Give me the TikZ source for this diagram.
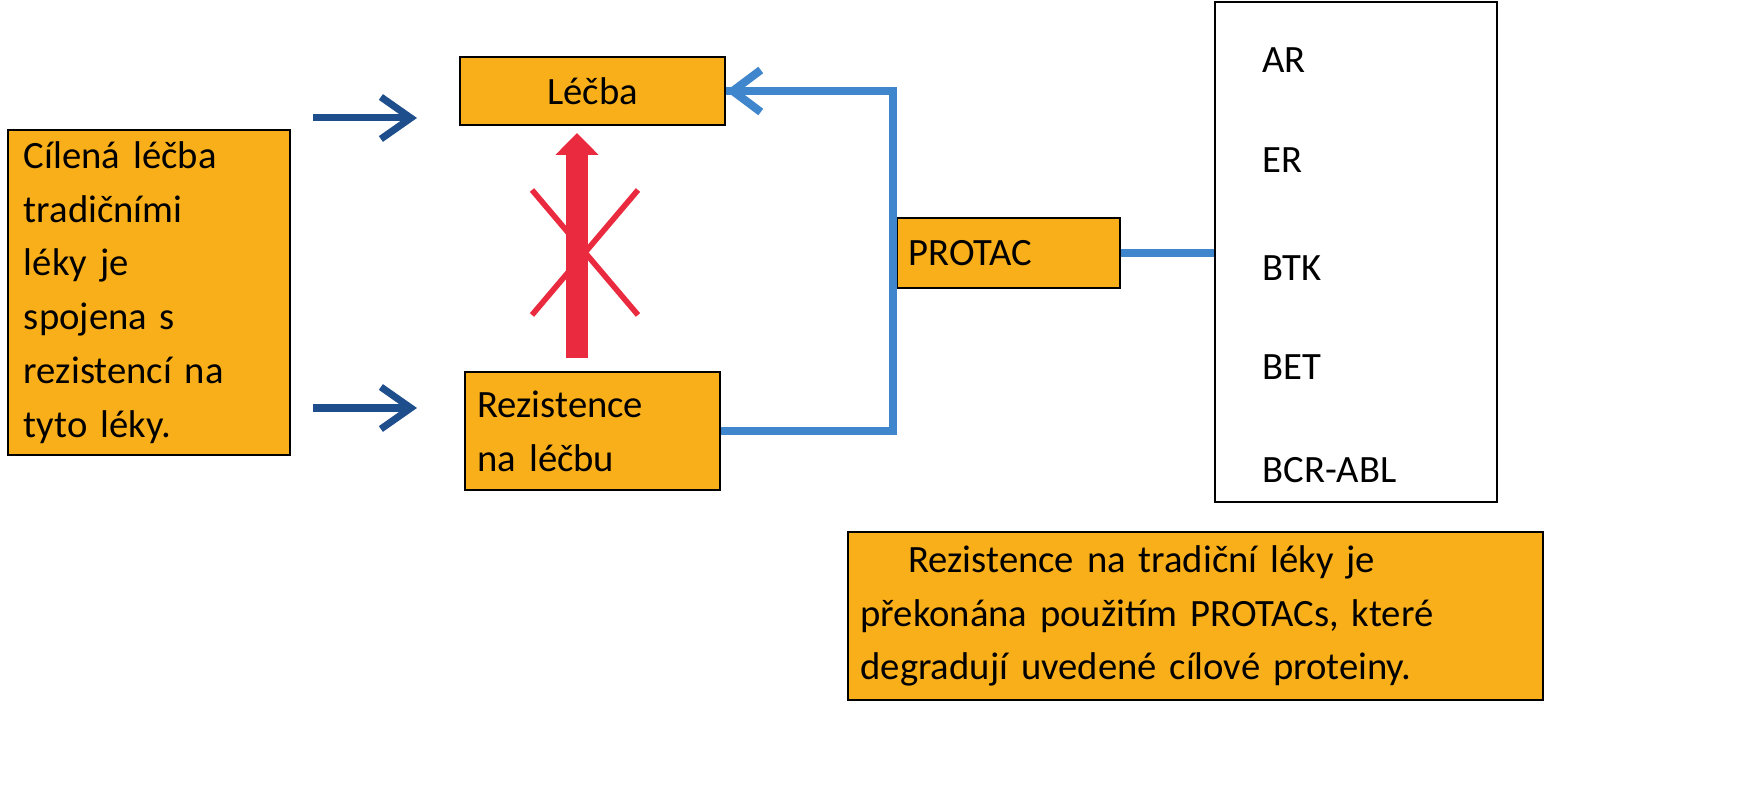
\documentclass[tikz,border=0pt]{standalone}
\usepackage{fontspec}
\setmainfont{Carlito}
\usetikzlibrary{arrows.meta,positioning,calc}
\definecolor{boxorange}{HTML}{F9AF19}
\definecolor{darkarrow}{HTML}{1F4E8C}
\definecolor{lightarrow}{HTML}{3F86CC}
\definecolor{stopred}{HTML}{EA2A3E}
\begin{document}
\begin{tikzpicture}[
    box/.style={rectangle, draw=black, line width=0.6pt, fill=boxorange, font=\fontsize{11}{15.3}\selectfont},
    item/.style={anchor=west, font=\fontsize{11}{15.3}\selectfont},
    darkline/.style={draw=darkarrow, line width=2pt, -{Straight Barb[length=0.3cm, width=0.42cm, line width=2pt]}},
    lightline/.style={draw=lightarrow, line width=2.3pt},
    redline/.style={draw=stopred, line width=1.6pt}
]
\useasboundingbox (0,0) rectangle (17.54,8);
% Boxes
\node [box, minimum width=2.82cm, minimum height=3.25cm, text width=2.5cm, align=left] (goal) at (1.49,5.075)
  {Cílená léčba\\tradičními\\léky je\\spojena s\\rezistencí na\\tyto léky.};
\node [box, minimum width=2.65cm, minimum height=0.68cm] (lecba) at (5.925,7.09) {Léčba};
\node [box, minimum width=2.55cm, minimum height=1.18cm, text width=2.3cm, align=left] (rez) at (5.925,3.69)
  {Rezistence\\na léčbu};
\node [box, minimum width=2.23cm, minimum height=0.7cm, text width=2cm, align=left] (protac) at (10.085,5.47) {PROTAC};
\node [rectangle, draw=black, line width=0.6pt, fill=white, minimum width=2.82cm, minimum height=5.0cm] (targets) at (13.56,5.48) {};
\node [box, minimum width=6.95cm, minimum height=1.68cm, text width=6.7cm, align=left] (note) at (11.955,1.84)
  {\hspace*{0.48cm}Rezistence na tradiční léky je\\překonána použitím PROTACs, které\\degradují uvedené cílové proteiny.};

% Targets
\node [item] (ar) at (12.5,7.4) {AR};
\node [item] (er) at (12.5,6.4) {ER};
\node [item] (btk) at (12.5,5.32) {BTK};
\node [item] (bet) at (12.5,4.33) {BET};
\node [item] (bcr) at (12.5,3.3) {BCR-ABL};

% Coordinates
\coordinate (inA) at (3.13,6.82);
\coordinate (outA) at (4.17,6.82);
\coordinate (inB) at (3.13,3.92);
\coordinate (outB) at (4.17,3.92);
\coordinate (bend) at (8.93,3.69);
\coordinate (redlow) at (5.77,4.42);
\coordinate (redhigh) at (5.77,6.67);

% Connections
\path [darkline] (inA) -- (outA);
\path [darkline] (inB) -- (outB);
\draw [lightline] (rez.east) -- (bend) |- (lecba.east);
\draw [lightline, -{Straight Barb[length=0.28cm, width=0.42cm, line width=2.3pt]}] (8.93,7.09) -- (lecba.east);
\draw [lightline] (protac.east) -- (protac.east -| targets.west);
\draw [draw=stopred, line width=6.3pt, -{Triangle[length=0.22cm, width=0.42cm]}] (redlow) -- (redhigh);
\draw [redline] (5.32,6.1) -- (6.38,4.85);
\draw [redline] (6.38,6.1) -- (5.32,4.85);
\end{tikzpicture}
\end{document}
